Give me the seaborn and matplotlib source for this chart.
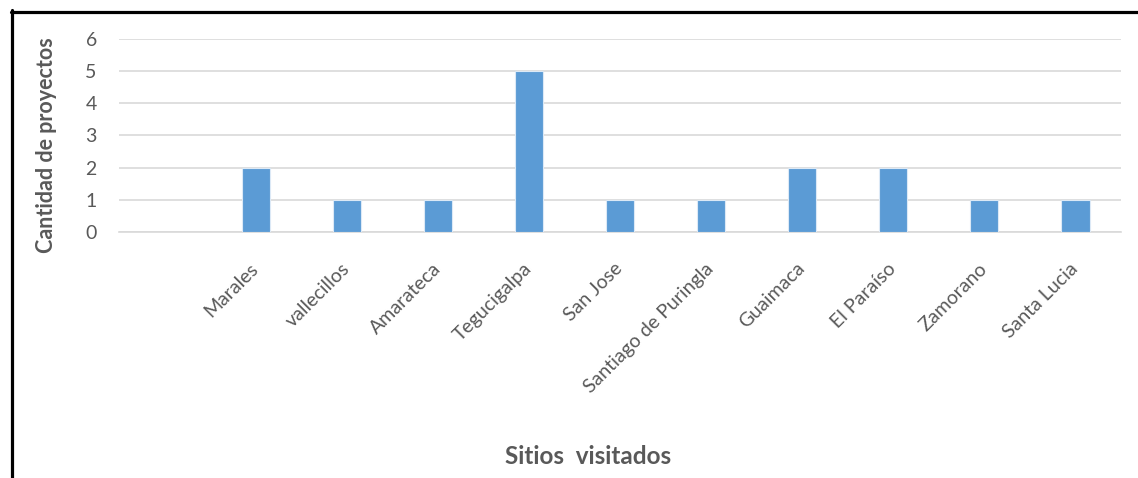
import matplotlib
matplotlib.use("Agg")
import matplotlib.pyplot as plt
import matplotlib.transforms as mtransforms
from matplotlib.lines import Line2D
import numpy as np
import pandas as pd
import seaborn as sns

# Sites visited and number of projects at each one (first slot left blank)
sitios = ["", "Marales", "vallecillos", "Amarateca", "Tegucigalpa", "San Jose",
          "Santiago de Puringla", "Guaimaca", "El Paraíso", "Zamorano", "Santa Lucia"]
proyectos = [np.nan, 2, 1, 1, 5, 1, 1, 2, 2, 1, 1]
y_ticks = [0, 1, 2, 3, 4, 5, 6]

sns.set_theme(style="white")
plt.rcParams["font.family"] = ["Lato", "DejaVu Sans"]

TEXT = "#595959"
GRID = "#D9D9D9"
BAR = "#5B9BD5"

W, H = 1138, 478
fig = plt.figure(figsize=(W / 100, H / 100), dpi=100)
ax = fig.add_axes([119 / W, 1 - 232 / H, (1121 - 119) / W, (232 - 39) / H])

df = pd.DataFrame({"sitio": sitios, "proyectos": proyectos})
sns.barplot(data=df, x="sitio", y="proyectos", order=sitios, color=BAR,
            saturation=1, width=0.31, edgecolor="#DCE9F6", linewidth=0.8,
            ax=ax, zorder=3)

ax.set_ylim(0, 6)
ax.set_xlim(-0.5, len(sitios) - 0.5)
ax.set_yticks(y_ticks)
ax.yaxis.grid(True, color=GRID, linewidth=1.2, zorder=0)
ax.set_axisbelow(True)
for side in ["top", "right", "left"]:
    ax.spines[side].set_visible(False)
ax.spines["bottom"].set_color(GRID)
ax.spines["bottom"].set_linewidth(1.2)

ax.tick_params(axis="y", length=0, pad=16, labelsize=14, labelcolor=TEXT)
ax.tick_params(axis="x", length=0, pad=20, labelsize=14, labelcolor=TEXT)
ax.set_xlabel("")
ax.set_ylabel("")

shift = mtransforms.ScaledTranslation(-6 / 100, 0, fig.dpi_scale_trans)
for lbl in ax.get_xticklabels():
    lbl.set_rotation(45)
    lbl.set_rotation_mode("anchor")
    lbl.set_ha("right")
    lbl.set_va("top")
    lbl.set_transform(lbl.get_transform() + shift)

fig.text(47 / W, 1 - 145 / H, "Cantidad de proyectos", rotation=90,
         ha="center", va="center", fontsize=15.5, fontweight="bold", color=TEXT)
fig.text(588 / W, 1 - 456 / H, "Sitios  visitados", ha="center", va="center",
         fontsize=17.5, fontweight="bold", color=TEXT)

# Frame around the chart (runs off the right and bottom edges)
fig.add_artist(Line2D([11 / W, 1.01], [1 - 11.5 / H, 1 - 11.5 / H],
                      transform=fig.transFigure, color="black", linewidth=2.3))
fig.add_artist(Line2D([11.5 / W, 11.5 / W], [1 - 10 / H, -0.01],
                      transform=fig.transFigure, color="black", linewidth=2.3))

fig.savefig("out.png", dpi=100, facecolor="white")
